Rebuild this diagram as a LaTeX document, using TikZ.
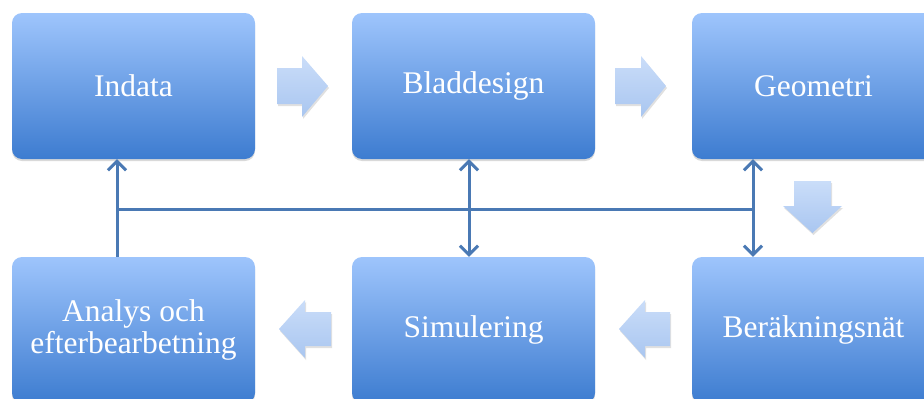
\documentclass[tikz,border=0pt]{standalone}
\usepackage{fontspec}
\setmainfont{Liberation Serif}
\usetikzlibrary{arrows.meta,shadows}
\definecolor{boxtop}{HTML}{9EC5FC}
\definecolor{boxbot}{HTML}{3D7CD0}
\definecolor{arrtop}{HTML}{CADDF9}
\definecolor{arrbot}{HTML}{A9C6F0}
\definecolor{conncol}{HTML}{4A79B4}
\tikzset{
  stepbox/.style={draw=none, rounded corners=10pt, minimum width=243pt, minimum height=146pt,
    inner sep=0pt, top color=boxtop, bottom color=boxbot, text=white, align=center,
    font=\fontsize{31.5}{32}\selectfont,
    drop shadow={shadow xshift=0pt, shadow yshift=-2pt, opacity=0.25, fill=black!60}},
  blockarrow/.style={draw=none, top color=arrtop, bottom color=arrbot,
    drop shadow={shadow xshift=1pt, shadow yshift=-2pt, opacity=0.2, fill=black!60}},
  conn/.style={draw=conncol, line width=3pt},
  barb/.tip={Straight Barb[length=9pt,width=18pt]},
}
\begin{document}
\begin{tikzpicture}[x=1pt,y=-1pt]
\useasboundingbox (0,0) rectangle (924,399);
\begin{scope}
\clip (0,0) rectangle (924,399);
% boxes
\node[stepbox] (in) at (133.5,86) {Indata};
\node[stepbox] (bl) at (473.5,86) {Bladdesign};
\node[stepbox] (ge) at (813.5,86) {Geometri};
\node[stepbox] (an) at (133.5,330) {Analys och\\efterbearbetning};
\node[stepbox] (si) at (473.5,330) {Simulering};
\node[stepbox] (be) at (813.5,330) {Beräkningsnät};
% block arrows
\path[blockarrow] (277,68) -- (302,68) -- (302,56) -- (328,86) -- (302,117) -- (302,104) -- (277,104) -- cycle;
\path[blockarrow] (615,68) -- (641,68) -- (641,56) -- (666,86) -- (641,117) -- (641,104) -- (615,104) -- cycle;
\path[blockarrow] (794,181) -- (831,181) -- (831,206) -- (842,206) -- (812.5,233) -- (783,206) -- (794,206) -- cycle;
\path[blockarrow] (670,312) -- (645,312) -- (645,300) -- (619,329) -- (645,358) -- (645,346) -- (670,346) -- cycle;
\path[blockarrow] (331,312) -- (305,312) -- (305,300) -- (279,329) -- (305,358) -- (305,346) -- (331,346) -- cycle;
% connectors
\coordinate (j1) at (117,209);
\coordinate (j2) at (469,209);
\coordinate (j3) at (753,209);
\draw[conn] (j1) -- (j3);
\draw[conn,-barb] (j1 |- an.north) -- (j1 |- in.south);
\draw[conn,barb-barb] (j2 |- bl.south) -- (j2 |- si.north);
\draw[conn,barb-barb] (j3 |- ge.south) -- (j3 |- be.north);
\end{scope}
\end{tikzpicture}
\end{document}
